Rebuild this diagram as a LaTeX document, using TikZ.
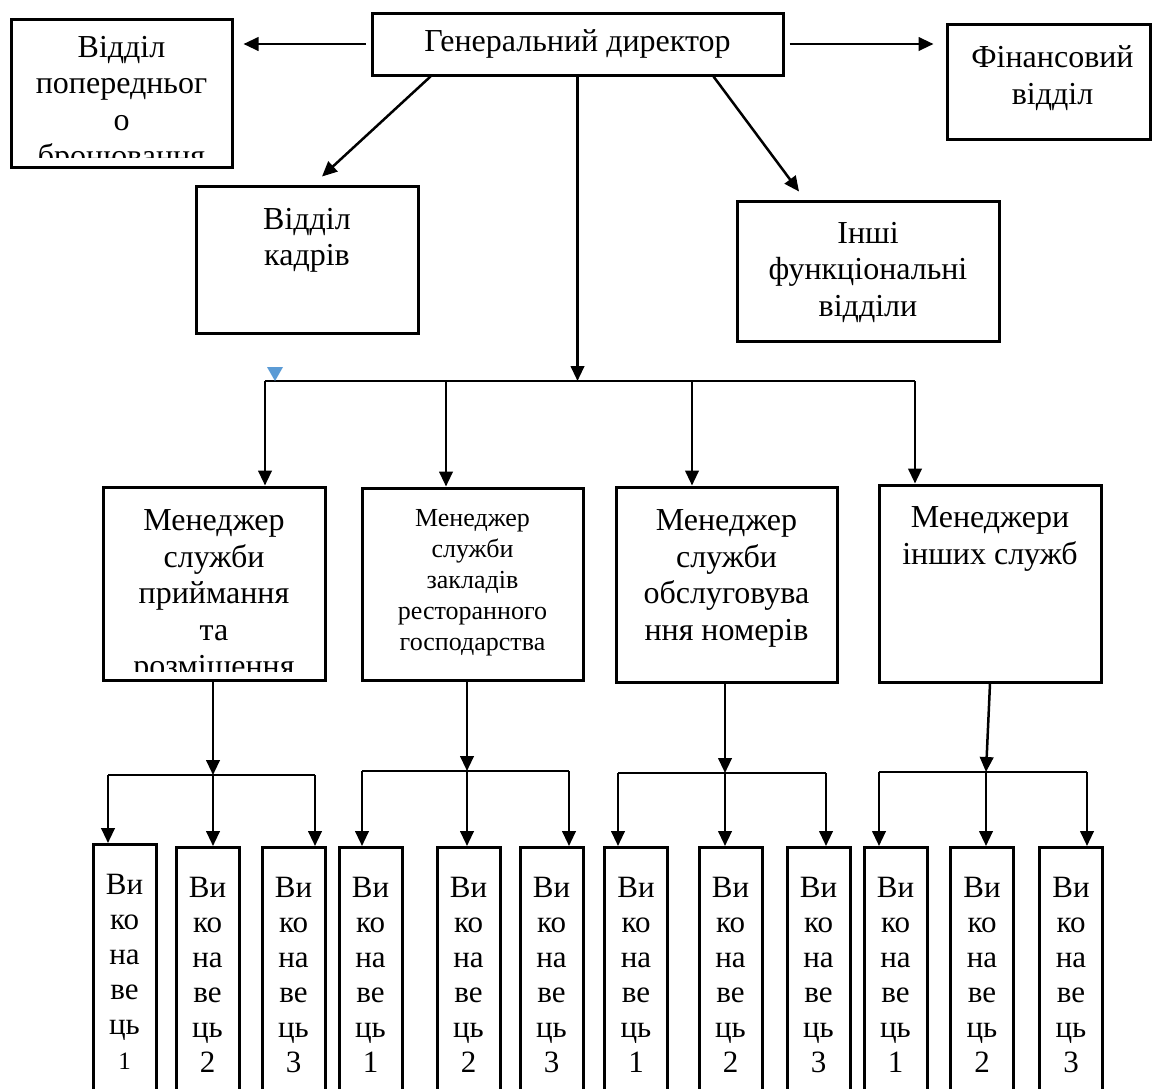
\documentclass[tikz,border=0pt]{standalone}
\usepackage{fontspec}
\setmainfont{Liberation Serif}
\usepackage{tikz}
\usetikzlibrary{arrows.meta, positioning, calc}
\definecolor{markblue}{HTML}{5B9BD5}
\newcommand{\vykon}[1]{Ви\\ко\\на\\ве\\ць\\#1}

\begin{document}
\begin{tikzpicture}[x=0.4pt, y=-0.4pt,
  box/.style={draw, line width=1.2pt, inner sep=0pt},
  boxdim/.style 2 args={minimum width=#1*0.4pt, minimum height=#2*0.4pt},
  txt/.style={align=center, inner sep=0pt, anchor=north, font=\fontsize{12.8}{14.6}\selectfont},
  vbox/.style={draw, line width=1.2pt, anchor=north, align=center, minimum width=25.2pt,
    inner xsep=0pt, inner ysep=12pt, font=\fontsize{12.4}{14}\selectfont},
  arrow/.style={-{Triangle[length=6pt, width=5.4pt]}, line width=1pt},
  bus/.style={line width=0.7pt}]
  \useasboundingbox (0,0) rectangle (1158,1088);
  \clip (0,0) rectangle (1158,1088);

  % top level
  \node[box, boxdim={411}{62}, font=\fontsize{12.8}{14.6}\selectfont] (gendir) at (577.5,44) {Генеральний директор};
  \node[box, boxdim={221}{148}] (bron) at (121.5,93) {};
  \node[box, boxdim={203}{115}] (finvid) at (1048.5,81.5) {};
  \node[box, boxdim={222}{147}] (kadry) at (307,259.5) {};
  \node[box, boxdim={262}{140}] (inshi) at (868,271) {};
  \begin{scope}
    \clip ($(bron.north west)+(2,2)$) rectangle ($(bron.south east)+(-2,-11)$);
    \node[txt] (bron-t) at ($(bron.north)+(0,18)$) {Відділ\\попередньог\\о\\бронювання};
  \end{scope}
  \node[txt] (finvid-t) at ($(finvid.north)+(4,23)$) {Фінансовий\\відділ};
  \node[txt] (kadry-t) at ($(kadry.north)+(0,23)$) {Відділ\\кадрів};
  \node[txt] (inshi-t) at ($(inshi.north)+(0,22)$) {Інші\\функціональні\\відділи};

  \draw[arrow, shorten <=2pt, shorten >=4pt] (gendir.west) -- (gendir.west -| bron.east);
  \draw[arrow, shorten <=2pt, shorten >=4.8pt] (gendir.east) -- (gendir.east -| finvid.west);
  \draw[arrow] ($(gendir.south west)+(60,0)$) -- ($(kadry.north)+(15,-8)$);
  \draw[arrow] ($(gendir.south east)+(-71,0)$) -- ($(inshi.north)+(-69,-8)$);

  % managers
  \node[box, boxdim={222}{193}] (man1) at (214,583.5) {};
  \node[box, boxdim={221}{192}] (man2) at (472.5,584) {};
  \node[box, boxdim={221}{195}] (man3) at (726.5,584.5) {};
  \node[box, boxdim={222}{197}] (man4) at (990,583.5) {};
  \begin{scope}
    \clip ($(man1.north west)+(2,2)$) rectangle ($(man1.south east)+(-2,-10)$);
    \node[txt] (man1-t) at ($(man1.north)+(0,24)$) {Менеджер\\служби\\приймання\\та\\розміщення};
  \end{scope}
  \node[txt, font=\fontsize{10.4}{12.4}\selectfont] (man2-t) at ($(man2.north)+(0,22)$) {Менеджер\\служби\\закладів\\ресторанного\\господарства};
  \node[txt] (man3-t) at ($(man3.north)+(0,24)$) {Менеджер\\служби\\обслуговува\\ння номерів};
  \node[txt] (man4-t) at ($(man4.north)+(0,23)$) {Менеджери\\інших служб};

  \coordinate (busl) at (265,381);
  \coordinate (bus2) at (446,381);
  \coordinate (bus3) at (692,381);
  \coordinate (busr) at (915,381);
  \draw[arrow] (gendir.south) -- (gendir.south |- busl);
  \draw[bus] (busl) -- (busr);
  \fill[markblue] (267,367) -- (283,367) -- (275,381) -- cycle;
  \draw[arrow] (busl) -- (busl |- man1.north);
  \draw[arrow] (bus2) -- (bus2 |- man2.north);
  \draw[arrow] (bus3) -- (bus3 |- man3.north);
  \draw[arrow] (busr) -- (busr |- man4.north);

  % executors, group 1
  \coordinate (g1w) at (108,775);
  \coordinate (g1m) at (213,775);
  \coordinate (g1e) at (315,775);
  \draw[arrow] (g1m |- man1.south) -- (g1m);
  \draw[bus] (g1w) -- (g1e);
  \node[vbox] (v11) at (124.5,843) {\vykon{{\fontsize{10}{14}\selectfont 1}}};
  \node[vbox] (v12) at (207.5,846) {\vykon{2}};
  \node[vbox] (v13) at (293.5,846) {\vykon{3}};
  \draw[arrow] (g1w) -- (g1w |- v11.north);
  \draw[arrow] (g1m) -- (g1m |- v12.north);
  \draw[arrow] (g1e) -- (g1e |- v13.north);

  % group 2
  \coordinate (g2w) at (362,771);
  \coordinate (g2m) at (467,771);
  \coordinate (g2e) at (569,771);
  \draw[arrow] (g2m |- man2.south) -- (g2m);
  \draw[bus] (g2w) -- (g2e);
  \node[vbox] (v21) at (370.5,846) {\vykon{1}};
  \node[vbox] (v22) at (468.5,846) {\vykon{2}};
  \node[vbox] (v23) at (551.5,846) {\vykon{3}};
  \draw[arrow] (g2w) -- (g2w |- v21.north);
  \draw[arrow] (g2m) -- (g2m |- v22.north);
  \draw[arrow] (g2e) -- (g2e |- v23.north);

  % group 3
  \coordinate (g3w) at (618,773);
  \coordinate (g3m) at (725,773);
  \coordinate (g3e) at (826,773);
  \draw[arrow] (g3m |- man3.south) -- (g3m);
  \draw[bus] (g3w) -- (g3e);
  \node[vbox] (v31) at (636,846) {\vykon{1}};
  \node[vbox] (v32) at (730.5,846) {\vykon{2}};
  \node[vbox] (v33) at (818.5,846) {\vykon{3}};
  \draw[arrow] (g3w) -- (g3w |- v31.north);
  \draw[arrow] (g3m) -- (g3m |- v32.north);
  \draw[arrow] (g3e) -- (g3e |- v33.north);

  % group 4
  \coordinate (g4w) at (879,772);
  \coordinate (g4m) at (986,772);
  \coordinate (g4e) at (1087,772);
  \draw[arrow] (man4.south) -- (g4m);
  \draw[bus] (g4w) -- (g4e);
  \node[vbox] (v41) at (895.5,846) {\vykon{1}};
  \node[vbox] (v42) at (982,846) {\vykon{2}};
  \node[vbox] (v43) at (1071,846) {\vykon{3}};
  \draw[arrow] (g4w) -- (g4w |- v41.north);
  \draw[arrow] (g4m) -- (g4m |- v42.north);
  \draw[arrow] (g4e) -- (g4e |- v43.north);
\end{tikzpicture}
\end{document}
